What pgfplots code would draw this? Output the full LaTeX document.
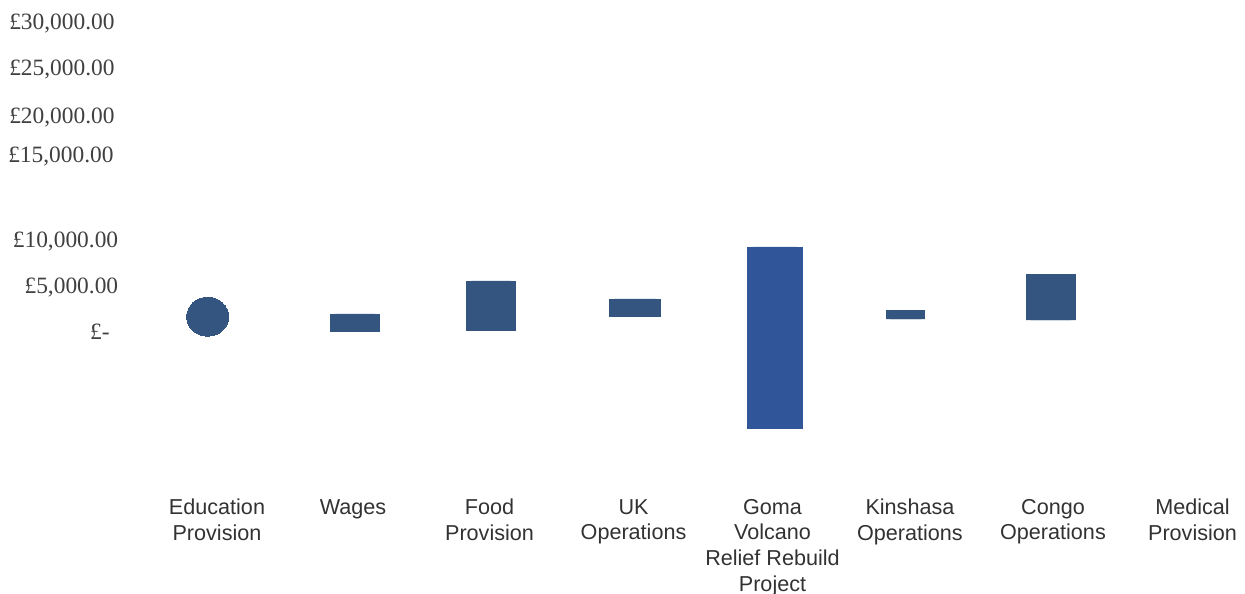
\documentclass[border=0pt]{standalone}
\usepackage{pgfplots}
\pgfplotsset{compat=1.18}
\usepgfplotslibrary{statistics}
\usepackage{fontspec}
\setmainfont{Liberation Serif}
\newfontfamily\labelfont{Liberation Sans}

\definecolor{barblue}{RGB}{52,85,127}
\definecolor{gomablue}{RGB}{48,85,153}
\definecolor{ticktext}{RGB}{64,64,64}
\definecolor{cattext}{RGB}{50,50,50}

% floating bar: position, low, high (thousands of pounds), width (axis units), colour
\pgfplotsset{
  floatbar/.style n args={5}{
    boxplot/draw direction=y,
    boxplot prepared={
      draw position=#1,
      lower whisker=#2, lower quartile=#2, median=#2,
      upper quartile=#3, upper whisker=#3,
      box extend=#4},
    draw=none, fill=#5,
    boxplot/every box/.style={fill=#5, draw=none},
    boxplot/every whisker/.style={draw=none},
    boxplot/every median/.style={draw=none},
  },
}

\begin{document}
\begin{tikzpicture}
\begin{axis}[
    name=ax,
    scale only axis,
    width=562.5pt, height=245pt,
    xmin=-0.6958, xmax=7.3745,
    ymin=-17.081, ymax=35.892,
    clip=false,
    axis lines=left,
    axis line style={draw=none},
    tick style={draw=none},
    major tick length=0pt,
    % the labels stand unevenly spaced in the reference
    ytick={0,5,10,19.135,23.427,28.541,33.514},
    yticklabels={{£-\kern2.5pt},{£5,000.00\kern-1.8pt},{£10,000.00\kern-1.8pt},
                 {£15,000.00\kern0.5pt},{£20,000.00},{£25,000.00},{£30,000.00}},
    yticklabel style={anchor=base east, inner sep=0pt, xshift=-2.5pt, yshift=-3.95pt,
                      font=\fontsize{11.7}{14}\selectfont, text=ticktext},
    xtick={0,0.976,1.955,2.988,3.985,4.971,5.997,6.998},
    xticklabels={{Education\\Provision},{Wages},{Food\\Provision},{UK\\Operations},
                 {Goma\\Volcano\\Relief Rebuild\\Project},{Kinshasa\\Operations},
                 {Congo\\Operations},{Medical\\Provision}},
    xticklabel style={anchor=north, inner sep=0pt, yshift=-4.4pt, align=center,
                      font=\labelfont\fontsize{10.8}{12.85}\selectfont, text=cattext},
]
% Education Provision
\addplot[color=barblue, only marks, mark=*, mark size=9.75pt,
         mark options={xscale=1.077, fill=barblue, draw=barblue, line width=0pt}]
    coordinates {(-0.067,1.654)};
% Wages
\addplot[floatbar={0.990}{0}{1.950}{0.3587}{barblue}] coordinates {};
% Food Provision
\addplot[floatbar={1.966}{0.140}{5.514}{0.3587}{barblue}] coordinates {};
% UK Operations
\addplot[floatbar={2.999}{1.654}{3.568}{0.3730}{barblue}] coordinates {};
% Goma Volcano Relief Rebuild Project
\addplot[floatbar={4.003}{-10.486}{9.222}{0.4020}{gomablue}] coordinates {};
% Kinshasa Operations
\addplot[floatbar={4.939}{1.405}{2.378}{0.2800}{barblue}] coordinates {};
% Congo Operations
\addplot[floatbar={5.983}{1.297}{6.270}{0.3587}{barblue}] coordinates {};
\end{axis}
\pgfresetboundingbox
\path[use as bounding box] (ax.south west) ++(-60pt,-52pt) rectangle (ax.north east);
\end{tikzpicture}
\end{document}
